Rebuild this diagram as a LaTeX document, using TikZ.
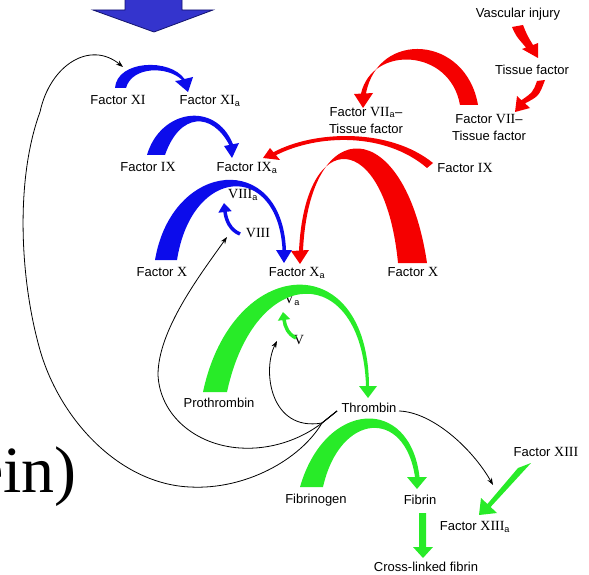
\documentclass[tikz,border=0pt]{standalone}
\usepackage{fontspec}
\setmainfont{Liberation Serif}
\setsansfont{Liberation Sans}
\usetikzlibrary{arrows.meta}
\definecolor{cblue}{RGB}{12,12,235}
\definecolor{cred}{RGB}{245,0,0}
\definecolor{cgreen}{RGB}{40,235,40}
\definecolor{topblue}{RGB}{52,52,205}
\definecolor{topedge}{RGB}{20,20,110}
\newcommand\rmn[1]{{\rmfamily\fontsize{14}{17}\selectfont #1}}
\newcommand\sba{\textsubscript{a}}
\begin{document}
\begin{tikzpicture}[x=1pt,y=-1pt,
  lbl/.style={font=\sffamily\fontsize{13}{17}\selectfont, inner sep=0pt, align=center},
  conn/.style={draw=black, line width=0.8pt, -{Stealth[length=7pt,width=5pt]}},
  smallgreen/.style={draw=cgreen, line width=3.5pt, -{Triangle[length=8pt,width=12pt]}},
  smallblue/.style={draw=cblue, line width=3.5pt, -{Triangle[length=9pt,width=13pt]}}]
\useasboundingbox (0,0) rectangle (589,575);

% top block arrow
\filldraw[fill=topblue, draw=topedge, line width=0.8pt]
  (125,-3) -- (182,-3) -- (182,10) -- (213,10) -- (154,32) -- (93,10) -- (125,10) -- cycle;

% big cropped text
\node[anchor=base east, inner sep=0pt, font=\rmfamily\fontsize{66}{66}\selectfont] (ein) at (77,492) {ein)};

% labels
\node[lbl] (fXI) at (118,100) {Factor \rmn{XI}};
\node[lbl] (fXIa) at (210,101) {Factor \rmn{XI}\sba};
\node[lbl] (fIX) at (148,167) {Factor \rmn{IX}};
\node[lbl] (fIXa) at (247,168) {Factor \rmn{IX}\sba};
\node[lbl] (fIXr) at (465,168) {Factor \rmn{IX}};
\node[lbl] (viiia) at (243,195) {\rmn{VIII}\sba};
\node[lbl] (viii) at (258,233) {\rmn{VIII}};
\node[lbl] (fXl) at (162,272) {Factor \rmn{X}};
\node[lbl] (fXa) at (297,273) {Factor \rmn{X}\sba};
\node[lbl] (fXr) at (413,272) {Factor \rmn{X}};
\node[lbl] (va) at (292,300) {\rmn{V}\sba};
\node[lbl] (v) at (299,340) {\rmn{V}};
\node[lbl] (proth) at (219,403) {Prothrombin};
\node[lbl] (thr) at (369,408) {Thrombin};
\node[lbl] (fXIII) at (546,452) {Factor \rmn{XIII}};
\node[lbl] (fibg) at (316,500) {Fibrinogen};
\node[lbl] (fib) at (420,500) {Fibrin};
\node[lbl] (fXIIIa) at (475,527) {Factor \rmn{XIII}\sba};
\node[lbl] (xfib) at (426,567) {Cross-linked fibrin};
\node[lbl] (vasc) at (518,14) {Vascular injury};
\node[lbl] (tf) at (532,70) {Tissue factor};
\node[lbl] (vIIa) at (366,120) {Factor \rmn{VII}\sba--\\Tissue factor};
\node[lbl] (vII) at (489,127) {Factor \rmn{VII}--\\Tissue factor};

% blue tapered arrows
\fill[cblue] (115,88) .. controls (117,60) and (170,58) .. (184.5,79) -- (193,77) -- (188,92) -- (175,81)
  -- (182,80) .. controls (168,66) and (132,66) .. (126,88) -- cycle;
\fill[cblue] (147,155) .. controls (160,110) and (215,100) .. (233,144.2) -- (239,143) -- (232,158) -- (224,146)
  -- (229.3,145) .. controls (212,112) and (180,112) .. (165,155) -- cycle;
\fill[cblue] (155,260) .. controls (172,160) and (282,150) .. (286,250) -- (292,250) -- (284,263) -- (276,250)
  -- (282.5,250) .. controls (278,162) and (192,165) .. (177,260) -- cycle;
\coordinate (viiiS) at (240,234);
\coordinate (viiiE) at (224,203);
\draw[smallblue] (viiiS) .. controls (230,230) and (226,220) .. (viiiE);

% red tapered arrows
\fill[cred] (512,27) .. controls (516,36) .. (526,47.5) -- (522,49) -- (538,58) -- (538,43)
  -- (533,45) .. controls (527,35) .. (523,25) -- cycle;
\fill[cred] (537,81) .. controls (533,92) .. (521.5,100.2) -- (517,96) -- (515,112) -- (530,108)
  -- (525,103.4) .. controls (539,96) .. (545,80) -- cycle;
\fill[cred] (478,105) .. controls (466,35) and (378,30) .. (366,93.4) -- (373,93) -- (363,108) -- (354,94)
  -- (361,93.6) .. controls (372,45) and (450,48) .. (460,105) -- cycle;
\fill[cred] (433,163) .. controls (390,128) and (315,130) .. (273.5,152.2) -- (270,148) -- (263,158) -- (280,160)
  -- (276,155.2) .. controls (318,134) and (385,132) .. (427,168) -- cycle;
\fill[cred] (427,263) .. controls (405,115) and (310,110) .. (303,250.3) -- (309,250) -- (300,264) -- (291,251)
  -- (299,250.6) .. controls (305,125) and (385,128) .. (398,263) -- cycle;

% green tapered arrows
\fill[cgreen] (203,392) .. controls (232,255) and (368,245) .. (369,386) -- (377,386) -- (368,398) -- (359,386)
  -- (366,386) .. controls (362,262) and (255,262) .. (227,392) -- cycle;
\coordinate (vS) at (296,338);
\coordinate (vE) at (283,312);
\draw[smallgreen] (vS) .. controls (288,334) and (285,327) .. (vE);
\fill[cgreen] (300,487) .. controls (325,400) and (410,395) .. (419.5,477) -- (427,477) -- (417,489) -- (407,477)
  -- (415,477) .. controls (405,408) and (340,412) .. (323,487) -- cycle;
\fill[cgreen] (419,513) -- (426,513) -- (426,547) -- (433,547) -- (423,558) -- (413,547) -- (419,547) -- cycle;
\fill[cgreen] (518,468) -- (487.4,504) -- (481,498) -- (479,515) -- (497,513) -- (490.6,507) -- (531,463) -- cycle;

% black thin connectors
\coordinate (thrL) at (337,411);
\coordinate (C) at (322,423);
\coordinate (thrR) at (399,411);
\coordinate (toV) at (277,341);
\coordinate (toVIII) at (227,237);
\coordinate (toXI) at (123,67);
\coordinate (toXIIIa) at (493,485);
\draw[conn] (thrL) -- (C) .. controls (270,432) and (262,370) .. (toV);
\draw[conn] (thrL) -- (C) .. controls (300,440) and (270,450) .. (240,448)
  .. controls (195,445) and (160,415) .. (158,375) .. controls (158,330) and (200,275) .. (toVIII);
\draw[conn] (thrL) -- (C) .. controls (300,460) and (245,490) .. (190,487)
  .. controls (120,484) and (60,420) .. (40,350) .. controls (20,280) and (15,180) .. (40,112)
  .. controls (50,65) and (90,40) .. (toXI);
\draw[conn] (thrR) .. controls (432,412) and (472,448) .. (toXIIIa);
\end{tikzpicture}
\end{document}
